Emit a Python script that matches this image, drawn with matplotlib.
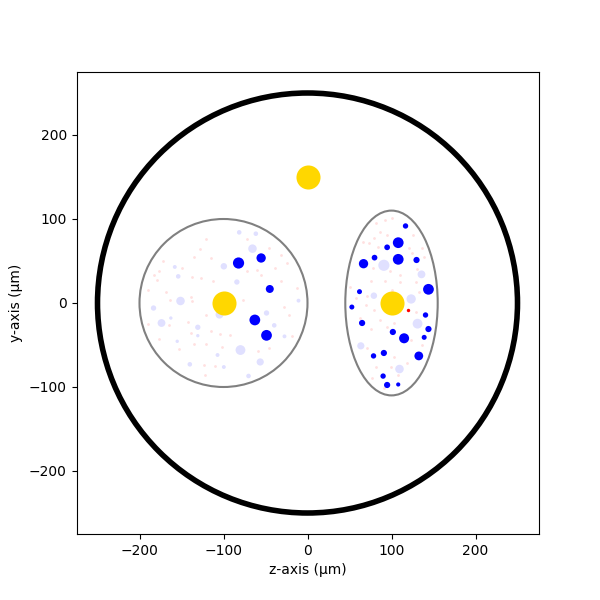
import numpy as np
import matplotlib
matplotlib.use('Agg')
import matplotlib.pyplot as plt
from matplotlib.patches import Circle, Ellipse

# nuclei (gold)
gold_z = [0, -100, 100]
gold_y = [150, 0, 0]

# bright blue points, right compartment
rb_z = [116.7, 108, 94.8, 66.7, 79.8, 108, 129.8, 144, 61.9, 52.8, 140.5, 65, 144, 101.6,
        115, 138.9, 78.6, 90.9, 132.5, 90, 94.8, 108]
rb_y = [91.7, 71.8, 66.3, 46.8, 54, 52, 51.2, 16.3, 13.5, -4.8, -14.3, -23.8, -31, -34.5,
        -42, -40.9, -63, -59.5, -63, -87, -97.6, -97]
rb_s = [15, 60, 17, 45, 17, 60, 20, 60, 13, 13, 15, 20, 20, 20, 52, 13, 15, 20, 40, 15, 20, 9]

# bright blue points, left compartment
lb_z = [-82.1, -55.2, -44.9, -62.7, -48.8]
lb_y = [47.6, 53.6, 16.7, -20.2, -38.5]
lb_s = [65, 45, 33, 60, 60]

# faint blue points
fb_z = [90.9, 135.7, 79, 123.4, 131, 63.5, 109.5,
        -81.3, -61.5, -65.5, -99.6, -153.9, -158, -84.1, -151.2, -183.3, -173.8, -162.7,
        -104.8, -130.6, -130.6, -48.8, -39.6, -10.7, -27.4, -155.1, -79.8, -107.1, -56.3,
        -140.1, -99.6, -70.2]
fb_y = [44.9, 34.1, 8.7, 4.8, -24.6, -51, -78.6,
        84.1, 82.5, 64.7, 43.7, 31.7, 42.9, 25, 2.4, -6, -23.8, -17.9,
        -13.9, -28.9, -38.9, -11.9, -26.6, 2.8, -39.7, -45.6, -56, -61.9, -70.2,
        -73, -76.2, -86.9]
fb_s = [65, 32, 22, 45, 50, 27, 38,
        11, 11, 38, 22, 11, 8, 15, 38, 15, 32, 6,
        32, 15, 6, 15, 11, 8, 8, 6, 50, 8, 27,
        11, 8, 11]

# faint red points
red_z = [-120.6, -128.1, -135.3, -114.6, -172.2, -149.2, -176.2, -182.9, -137.3, -127.3,
         -179, -112.7, -190.1, -168.6, -163.9, -138.5, -137.3, -76.5, -109.5, -121.4,
         -142.0, -189.3, -164.3, -139.2, -115.4, -104.3, -92.4, -176.6, -135.3, -121,
         -152.4, -101.5, -123.4, -110.7, -122.2, -24.1, -32.1, -45.9, -71.8, -22.5,
         -18.2, -28.1, -39.2, -13, -59.5, -45.6, -31.7, -59.9, -55.1, -72.6,
         81.4, 92.1, 100.0, 86.9, 94.9, 79, 125.4, 73.0, 84.2, 65.9,
         120.7, 136.6, 124.7, 138.6, 78.2, 98.8, 110, 129.8, 75, 92.1,
         110, 128.6, 57.2, 71.1, 100.8, 132.6, 69.1, 90.9, 79, 86.1,
         102.8, 128.6, 75, 94.9, 122.7, 136.6, 71.1, 102.8, 81, 98.9,
         118.7, 77, 107.6, 90.9, 62.3, 50.4]
red_y = [76.2, 64.7, 54.4, 53.6, 49.6, 41.7, 37.7, 32.9, 30.5, 29.7,
         27.8, 25.8, 15.8, 12.7, 3.1, 7.1, 2, 3.9, -4, -13.9,
         -22.7, -25.0, -25.8, -36.2, -33.8, -36.6, -37.8, -42.5, -48.5, -48.5,
         -54.8, -52.8, -73.5, -74.7, -86.2, 47.2, 57.5, 65.5, 76.6, -14.7,
         -39.7, -5.2, 41.7, 17.8, -57.6, -53.6, 25.8, 39.7, 33.7, 37.7,
         94.8, 98.8, 100.8, 84.1, 80.9, 77, 80.9, 71, 67, 72.2,
         65.8, 65, 59.9, 55.1, 41.2, 38.4, 33.3, 40, 26.5, 26.5,
         25.3, 25.3, 5.5, 8.7, 15.4, 13.4, -2.4, -2.4, -8.4, -20.3,
         -24.3, -10.4, -31, -28.3, -44.1, -50.1, -54, -64, -75.9, -75.9,
         -71.9, -89.8, -85.8, -101.7, -18.3, 19.4]

# the one bright red point
hot_z = [120]
hot_y = [-8.3]

fig, ax = plt.subplots(figsize=(6, 6), dpi=100)

ax.add_patch(Circle((0, 0), 250, fill=False, ec='black', lw=4))
ax.add_patch(Circle((-100, 0), 100, fill=False, ec='gray', lw=1.5))
ax.add_patch(Ellipse((100, 0), 110, 220, fill=False, ec='gray', lw=1.5))

ax.scatter(red_z, red_y, s=4, c='red', alpha=0.12, lw=0)
ax.scatter(fb_z, fb_y, s=fb_s, c='blue', alpha=0.12, lw=0)
ax.scatter(rb_z, rb_y, s=rb_s, c='blue', lw=0)
ax.scatter(lb_z, lb_y, s=lb_s, c='blue', lw=0)
ax.scatter(hot_z, hot_y, s=6, c='red', lw=0)
ax.scatter(gold_z, gold_y, s=300, c='gold', lw=0)

ax.set_xlim(-275, 275)
ax.set_ylim(-275, 275)
ax.set_aspect('equal')
ax.set_xticks([-200, -100, 0, 100, 200])
ax.set_yticks([-200, -100, 0, 100, 200])
ax.set_xlabel('z-axis (µm)')
ax.set_ylabel('y-axis (µm)')

fig.savefig('out.png')
